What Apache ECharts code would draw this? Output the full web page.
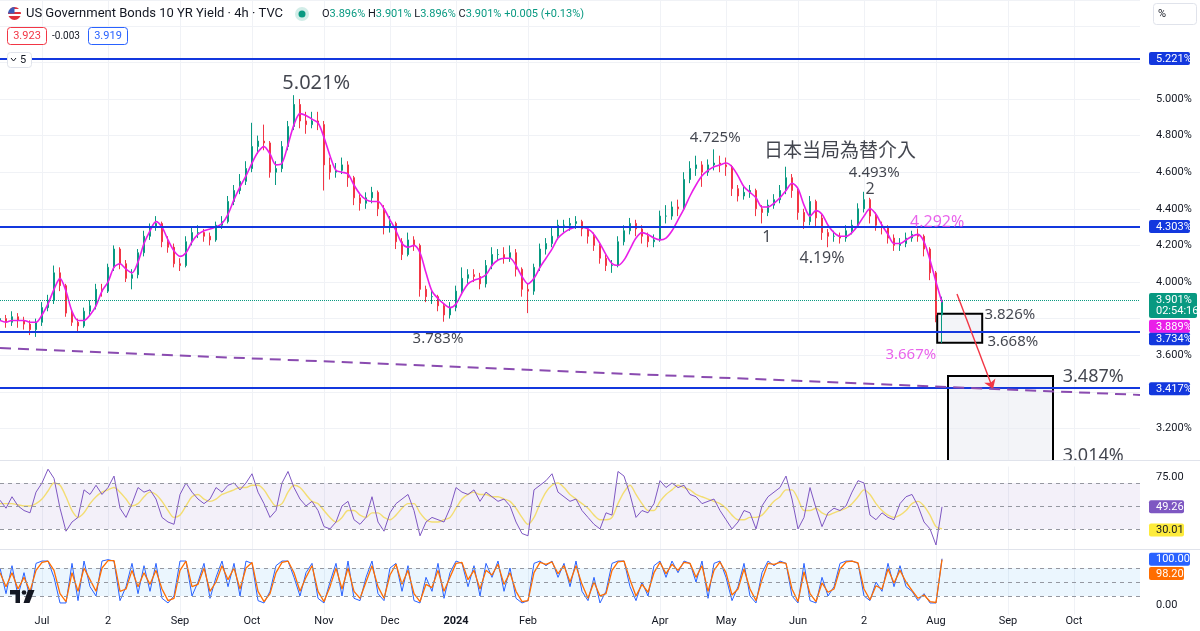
<!DOCTYPE html>
<html>
<head>
<meta charset="utf-8">
<title>US10Y 4h</title>
<script src="https://cdn.jsdelivr.net/npm/echarts@6/dist/echarts.min.js"></script>
<style>
  html, body { margin: 0; padding: 0; background: #fff; }
  #main { width: 1200px; height: 631px; }
</style>
</head>
<body>
<div id="main"></div>
<script>
// values, one candle ~ 2.6 days
var opens = [3.79,3.80,3.78,3.81,3.79,3.77,3.74,3.78,3.86,3.90,
  4.05,3.98,3.83,3.78,3.76,3.84,3.87,3.96,3.95,4.08,
  4.18,4.10,4.02,4.04,4.16,4.25,4.30,4.32,4.22,4.19,
  4.10,4.09,4.22,4.27,4.27,4.25,4.23,4.31,4.33,4.44,
  4.50,4.55,4.62,4.74,4.77,4.76,4.60,4.62,4.74,4.85,
  4.97,4.88,4.86,4.88,4.86,4.64,4.60,4.61,4.64,4.57,
  4.46,4.43,4.46,4.49,4.40,4.30,4.32,4.22,4.15,4.23,
  4.20,3.96,3.92,3.92,3.87,3.82,3.86,3.95,4.02,4.04,
  4.03,3.99,4.09,4.15,4.15,4.13,4.16,4.07,3.96,3.95,
  4.08,4.18,4.21,4.25,4.31,4.31,4.32,4.33,4.29,4.25,
  4.20,4.13,4.09,4.09,4.22,4.28,4.32,4.29,4.25,4.22,
  4.23,4.36,4.36,4.41,4.40,4.56,4.62,4.64,4.60,4.64,
  4.65,4.64,4.63,4.51,4.47,4.49,4.50,4.40,4.38,4.42,
  4.45,4.50,4.57,4.50,4.38,4.33,4.44,4.35,4.27,4.25,
  4.25,4.24,4.28,4.31,4.40,4.45,4.36,4.31,4.30,4.24,
  4.20,4.21,4.24,4.26,4.25,4.18,4.05,3.82];
var closes = [3.80,3.78,3.81,3.79,3.77,3.74,3.78,3.86,3.90,4.05,
  3.98,3.83,3.78,3.76,3.84,3.87,3.96,3.95,4.08,4.18,
  4.10,4.02,4.04,4.16,4.25,4.30,4.32,4.22,4.19,4.10,
  4.09,4.22,4.27,4.27,4.25,4.23,4.31,4.33,4.44,4.50,
  4.55,4.62,4.74,4.77,4.76,4.60,4.62,4.74,4.85,4.97,
  4.88,4.86,4.88,4.86,4.64,4.60,4.61,4.64,4.57,4.46,
  4.43,4.46,4.49,4.40,4.30,4.32,4.22,4.15,4.23,4.20,
  3.96,3.92,3.92,3.87,3.82,3.86,3.95,4.02,4.04,4.03,
  3.99,4.09,4.15,4.15,4.13,4.16,4.07,3.96,3.95,4.08,
  4.18,4.21,4.25,4.31,4.31,4.32,4.33,4.29,4.25,4.20,
  4.13,4.09,4.09,4.22,4.28,4.32,4.29,4.25,4.22,4.23,
  4.36,4.36,4.41,4.40,4.56,4.62,4.64,4.60,4.64,4.65,
  4.64,4.63,4.51,4.47,4.49,4.50,4.40,4.38,4.42,4.45,
  4.50,4.57,4.50,4.38,4.33,4.44,4.35,4.27,4.25,4.25,
  4.24,4.28,4.31,4.40,4.45,4.36,4.31,4.30,4.24,4.20,
  4.21,4.24,4.26,4.25,4.18,4.05,3.82,3.901];
var highs = [3.83,3.82,3.84,3.83,3.81,3.79,3.80,3.89,3.93,4.09,
  4.08,3.99,3.85,3.80,3.86,3.90,3.99,3.99,4.10,4.20,
  4.19,4.12,4.07,4.18,4.28,4.32,4.36,4.33,4.25,4.21,
  4.13,4.25,4.30,4.31,4.29,4.27,4.33,4.36,4.47,4.53,
  4.59,4.66,4.87,4.80,4.86,4.77,4.66,4.77,4.88,5.021,
  5.00,4.93,4.93,4.93,4.88,4.68,4.65,4.68,4.66,4.58,
  4.48,4.49,4.52,4.50,4.42,4.36,4.33,4.24,4.27,4.25,
  4.21,3.98,3.95,3.93,3.88,3.89,3.98,4.08,4.07,4.07,
  4.05,4.12,4.19,4.18,4.19,4.20,4.18,4.08,3.99,4.10,
  4.21,4.24,4.30,4.34,4.34,4.35,4.36,4.34,4.30,4.27,
  4.21,4.15,4.12,4.25,4.31,4.35,4.34,4.31,4.27,4.26,
  4.39,4.42,4.44,4.45,4.60,4.66,4.69,4.66,4.67,4.725,
  4.69,4.68,4.64,4.53,4.53,4.53,4.51,4.42,4.45,4.48,
  4.53,4.63,4.59,4.51,4.40,4.47,4.45,4.37,4.29,4.28,
  4.27,4.31,4.34,4.43,4.493,4.46,4.38,4.33,4.31,4.26,
  4.24,4.27,4.28,4.292,4.26,4.19,4.06,3.92];
var lows = [3.76,3.75,3.76,3.75,3.74,3.71,3.70,3.76,3.84,3.88,
  3.95,3.81,3.76,3.73,3.75,3.82,3.85,3.92,3.94,4.06,
  4.07,4.00,3.96,4.02,4.14,4.23,4.28,4.19,4.16,4.08,
  4.06,4.08,4.20,4.24,4.22,4.20,4.22,4.29,4.32,4.42,
  4.48,4.53,4.60,4.70,4.72,4.57,4.53,4.60,4.72,4.83,
  4.84,4.81,4.84,4.83,4.50,4.56,4.57,4.59,4.52,4.42,
  4.39,4.40,4.43,4.36,4.26,4.27,4.18,4.12,4.14,4.17,
  3.92,3.89,3.88,3.84,3.783,3.80,3.84,3.93,3.99,4.00,
  3.96,3.97,4.07,4.12,4.10,4.11,4.03,3.92,3.83,3.93,
  4.06,4.15,4.19,4.23,4.27,4.28,4.29,4.25,4.21,4.17,
  4.10,4.06,4.05,4.08,4.20,4.26,4.25,4.21,4.19,4.19,
  4.22,4.32,4.34,4.36,4.39,4.54,4.58,4.52,4.58,4.61,
  4.60,4.58,4.47,4.44,4.45,4.46,4.36,4.32,4.36,4.40,
  4.43,4.48,4.46,4.34,4.29,4.31,4.30,4.23,4.19,4.22,
  4.21,4.22,4.26,4.30,4.38,4.32,4.28,4.26,4.21,4.17,
  4.17,4.19,4.22,4.22,4.14,4.01,3.78,3.667];
// magenta moving average
var ma = [3.79,3.78,3.79,3.79,3.79,3.78,3.78,3.82,3.88,3.96,
  4.02,3.95,3.84,3.79,3.79,3.82,3.87,3.95,4.00,4.08,
  4.10,4.07,4.05,4.11,4.21,4.28,4.33,4.30,4.23,4.17,
  4.14,4.16,4.22,4.26,4.28,4.29,4.30,4.32,4.37,4.45,
  4.52,4.58,4.65,4.71,4.74,4.70,4.64,4.65,4.75,4.86,
  4.92,4.91,4.89,4.87,4.79,4.69,4.61,4.60,4.59,4.53,
  4.48,4.45,4.44,4.44,4.40,4.34,4.28,4.21,4.19,4.20,
  4.16,4.05,3.95,3.91,3.88,3.86,3.88,3.94,3.99,4.01,
  4.02,4.04,4.09,4.12,4.13,4.13,4.09,4.03,3.99,4.02,
  4.08,4.13,4.18,4.24,4.27,4.29,4.30,4.30,4.29,4.26,
  4.21,4.15,4.10,4.09,4.12,4.18,4.24,4.27,4.26,4.24,
  4.23,4.24,4.28,4.34,4.40,4.47,4.53,4.58,4.61,4.63,
  4.64,4.65,4.63,4.58,4.52,4.49,4.46,4.41,4.41,4.43,
  4.46,4.50,4.54,4.51,4.42,4.36,4.39,4.37,4.31,4.27,
  4.25,4.25,4.27,4.31,4.36,4.40,4.37,4.31,4.26,4.21,
  4.21,4.23,4.25,4.26,4.22,4.12,4.00,3.889];
var rsi = [55,48,58,50,46,44,62,70,82,74,
  48,28,36,40,64,60,68,60,66,76,
  48,40,52,66,62,64,56,40,36,34,
  60,70,62,56,52,56,66,62,68,70,
  64,70,78,62,52,40,46,70,80,66,
  56,50,54,46,32,30,36,50,54,38,
  34,40,58,36,28,44,52,56,60,46,
  24,36,40,38,36,48,66,62,60,64,
  54,62,58,54,56,50,36,26,24,64,
  68,72,78,62,58,54,56,46,40,34,
  30,44,42,80,76,60,40,46,44,52,
  72,66,70,66,68,60,58,52,54,56,
  46,38,30,36,46,44,30,50,58,62,
  66,76,56,30,40,66,48,32,44,48,
  46,50,62,72,70,42,38,44,40,38,
  52,58,60,50,36,30,16,49.26];
var rsiMa = [52,52,52,51,50,50,52,56,63,70,
  68,58,46,40,44,52,58,62,64,66,
  62,56,50,52,58,62,60,54,46,40,
  42,50,58,60,56,54,56,60,62,64,
  66,66,68,68,64,56,50,52,62,68,
  66,60,54,52,46,40,36,40,46,46,
  42,40,44,44,40,38,42,48,52,52,
  44,38,36,36,38,40,48,56,60,62,
  60,60,58,58,56,54,48,40,34,40,
  52,62,68,70,66,60,56,52,48,42,
  38,38,40,52,62,68,60,52,46,46,
  54,60,64,68,66,64,60,58,56,54,
  52,48,42,38,38,40,40,42,48,54,
  58,64,64,56,46,46,48,44,42,44,
  46,48,52,58,64,60,52,46,42,40,
  42,46,52,54,50,42,32,30.01];
var stochK = [80,25,85,20,70,15,90,95,95,60,
  5,5,90,10,95,40,20,95,98,95,
  10,40,90,25,85,30,90,15,5,20,
  95,95,20,50,90,15,60,95,40,90,
  20,95,90,10,5,30,85,95,95,60,
  20,70,90,15,5,50,90,20,95,15,
  10,60,95,25,10,80,90,30,85,10,
  5,60,30,90,15,70,95,90,40,85,
  20,90,60,95,30,80,15,5,10,90,
  95,85,95,60,90,40,95,30,10,60,
  5,30,90,95,95,40,10,50,20,85,
  95,60,95,70,95,90,50,95,15,90,
  95,60,10,40,90,20,5,70,95,85,
  95,90,20,5,90,10,5,60,20,40,
  90,95,95,90,20,10,50,30,90,40,
  85,40,30,10,25,5,5,100];
var stochD = [70,40,70,35,60,30,75,92,95,75,
  25,8,70,30,80,55,30,80,96,96,
  30,35,75,40,70,45,75,35,10,15,
  75,95,40,45,80,30,50,85,55,80,
  35,80,92,30,8,25,70,92,95,70,
  30,60,85,30,8,40,80,35,80,30,
  15,50,85,40,15,65,88,45,75,25,
  8,45,38,75,30,60,90,92,55,75,
  35,75,65,88,45,70,30,8,10,70,
  92,88,93,68,85,50,85,45,15,50,
  20,25,75,93,95,55,20,45,28,70,
  92,68,88,75,92,90,60,85,30,75,
  93,70,22,35,78,35,10,55,90,88,
  92,90,35,8,72,25,8,48,28,35,
  78,93,95,91,35,12,42,35,78,48,
  75,50,32,15,22,8,6,98.2];

// x axis: one slot per candle, slots continue into the empty future
var slotCount = 191;
var tickIdx = [7, 18, 30, 42, 54, 65, 76, 88, 110, 121, 133, 144, 156, 168, 179];
var tickText = ['Jul', '2', 'Sep', 'Oct', 'Nov', 'Dec', '2024', 'Feb', 'Apr', 'May', 'Jun', '2', 'Aug', 'Sep', 'Oct'];

// drawn levels and tools
var levels = [5.221, 4.303, 3.734, 3.417];
var lastPrice = 3.901;
var trendX = [0, 190];
var trendY = [3.639, 3.383];
var arrowX = [159.5, 165.5];
var arrowY = [3.934, 3.415];
var boxSmallX = [156.2, 163.7];
var boxSmallY = [3.826, 3.668];
var boxBigX = [158, 175.5];
var boxBigY = [3.487, 3.0];

var annText = ['5.021%', '4.725%', '日本当局為替介入', '4.493%', '2', '1', '4.19%', '4.292%', '3.783%', '3.826%', '3.668%', '3.667%', '3.487%', '3.014%'];
var annX = [52.7, 119.2, 140, 145.7, 145, 127.8, 137, 156.2, 73, 168.3, 168.8, 151.8, 182.2, 182.2];
var annY = [5.087, 4.787, 4.710, 4.596, 4.508, 4.246, 4.131, 4.328, 3.689, 3.820, 3.672, 3.601, 3.481, 3.05];
var annSize = [20, 15, 19, 15, 16, 16, 16, 16, 15, 15, 15, 15, 18, 18];
var annColor = ['#131722', '#131722', '#131722', '#131722', '#131722', '#131722', '#131722', '#e33ce6', '#131722', '#131722', '#131722', '#e33ce6', '#131722', '#131722'];

var BLUE = '#1338de';
var MAGENTA = '#e91ee8';
var FONT = 'Roboto, "Noto Sans", "Noto Sans CJK JP", sans-serif';

var cats = [];
for (var i = 0; i < slotCount; i++) cats.push('s' + i);

var candles = opens.map(function (o, i) { return [o, closes[i], lows[i], highs[i]]; });

var showTick = function (idx) { return tickIdx.indexOf(idx) >= 0; };

var catAxis = function (grid, labels) {
  return {
    type: 'category', gridIndex: grid, data: cats, boundaryGap: false,
    axisLine: { show: false }, axisTick: { show: false },
    axisLabel: labels ? {
      interval: showTick, color: '#131722', fontSize: 11, margin: 1, fontFamily: FONT,
      formatter: function (v, idx) {
        var k = tickIdx.indexOf(idx);
        if (k < 0) return '';
        return tickText[k] === '2024' ? '{b|2024}' : tickText[k];
      },
      rich: { b: { fontWeight: 'bold', fontSize: 11, color: '#131722', fontFamily: FONT } }
    } : { show: false },
    splitLine: { show: true, interval: showTick, lineStyle: { color: '#f0f2f6', width: 1 } }
  };
};

var option = {
  animation: false,
  backgroundColor: '#ffffff',
  textStyle: { fontFamily: FONT },
  grid: [
    { left: 0, right: 60, top: 0, height: 465 },
    { left: 0, right: 60, top: 460, height: 89 },
    { left: 0, right: 60, top: 549.4, height: 65.2 }
  ],
  xAxis: [
    catAxis(0, false),
    { type: 'value', gridIndex: 0, min: 0, max: 190, show: false },
    catAxis(1, false),
    catAxis(2, true)
  ],
  yAxis: [
    {
      type: 'value', gridIndex: 0, position: 'right', min: 3.0, max: 5.541, interval: 0.2,
      axisLine: { show: false }, axisTick: { show: false },
      splitLine: { lineStyle: { color: '#f0f2f6' } },
      axisLabel: {
        color: '#131722', fontSize: 11, margin: 16, showMaxLabel: false,
        formatter: function (v) {
          if (Math.abs(v * 5 - Math.round(v * 5)) > 1e-6) return '';
          var s = v.toFixed(1);
          if (['3.0', '3.4', '3.8', '5.2', '5.4'].indexOf(s) >= 0) return '';
          return v.toFixed(3) + '%';
        }
      }
    },
    {
      type: 'value', gridIndex: 1, position: 'right', min: 12.5, max: 90, interval: 12.5,
      axisLine: { show: false }, axisTick: { show: false }, splitLine: { show: false },
      axisLabel: { color: '#131722', fontSize: 11, margin: 16, formatter: function (v) { return v === 75 ? '75.00' : ''; } }
    },
    {
      type: 'value', gridIndex: 2, position: 'right', min: -20, max: 120, interval: 20,
      axisLine: { show: false }, axisTick: { show: false }, splitLine: { show: false },
      axisLabel: { color: '#131722', fontSize: 11, margin: 16, formatter: function (v) { return v === 0 ? '0.00' : ''; } }
    }
  ],
  series: [
    {
      type: 'candlestick', xAxisIndex: 0, yAxisIndex: 0, data: candles, barWidth: 2, z: 3, silent: true,
      itemStyle: { color: '#089981', color0: '#f23645', borderColor: '#089981', borderColor0: '#f23645', borderWidth: 1 },
      markLine: {
        silent: true, symbol: ['none', 'none'], label: { show: false },
        data: levels.map(function (v) {
          return { yAxis: v, lineStyle: { color: BLUE, width: 2, type: 'solid' } };
        }).concat([{ yAxis: lastPrice, lineStyle: { color: '#089981', width: 1, type: 'dotted' } }])
      }
    },
    {
      type: 'line', xAxisIndex: 0, yAxisIndex: 0, data: ma, symbol: 'none', smooth: 0.3, z: 4, silent: true,
      lineStyle: { color: MAGENTA, width: 1.6 }
    },
    {
      type: 'line', xAxisIndex: 1, yAxisIndex: 0, symbol: 'none', z: 5, silent: true,
      data: [[trendX[0], trendY[0]], [trendX[1], trendY[1]]],
      lineStyle: { color: '#8a4bb0', width: 2, type: [11, 7] },
      markLine: {
        silent: true, symbol: ['none', 'arrow'], symbolSize: 9, label: { show: false },
        lineStyle: { color: '#f23645', width: 1.4, type: 'solid' },
        data: [[{ coord: [arrowX[0], arrowY[0]] }, { coord: [arrowX[1], arrowY[1]] }]]
      },
      markArea: {
        silent: true,
        itemStyle: { color: 'rgba(234,235,243,0.55)', borderColor: '#000', borderWidth: 2 },
        data: [
          [{ coord: [boxSmallX[0], boxSmallY[0]] }, { coord: [boxSmallX[1], boxSmallY[1]] }],
          [{ coord: [boxBigX[0], boxBigY[0]] }, { coord: [boxBigX[1], boxBigY[1]] }]
        ]
      }
    },
    {
      type: 'scatter', xAxisIndex: 1, yAxisIndex: 0, symbolSize: 1, z: 10, silent: true,
      itemStyle: { color: 'rgba(0,0,0,0)' },
      label: { show: true, position: 'inside' },
      data: annText.map(function (t, i) {
        return {
          value: [annX[i], annY[i]],
          label: { formatter: t, fontSize: annSize[i], color: annColor[i], fontFamily: '"Noto Sans", "Noto Sans CJK JP", sans-serif' }
        };
      })
    },
    {
      type: 'line', xAxisIndex: 2, yAxisIndex: 1, data: rsi, symbol: 'none', z: 4, silent: true,
      lineStyle: { color: '#7e57c2', width: 1 },
      markArea: { silent: true, itemStyle: { color: 'rgba(126,87,194,0.09)' }, data: [[{ yAxis: 30 }, { yAxis: 70 }]] },
      markLine: {
        silent: true, symbol: ['none', 'none'], label: { show: false },
        lineStyle: { color: '#9598a1', type: [4, 4], width: 1 },
        data: [{ yAxis: 70 }, { yAxis: 50 }, { yAxis: 30 }]
      }
    },
    {
      type: 'line', xAxisIndex: 2, yAxisIndex: 1, data: rsiMa, symbol: 'none', smooth: 0.3, z: 3, silent: true,
      lineStyle: { color: '#f3dd72', width: 1.4 }
    },
    {
      type: 'line', xAxisIndex: 3, yAxisIndex: 2, data: stochK, symbol: 'none', z: 3, silent: true,
      lineStyle: { color: '#2962ff', width: 1 },
      markArea: { silent: true, itemStyle: { color: 'rgba(33,150,243,0.09)' }, data: [[{ yAxis: 20 }, { yAxis: 80 }]] },
      markLine: {
        silent: true, symbol: ['none', 'none'], label: { show: false },
        lineStyle: { color: '#9598a1', type: [4, 4], width: 1 },
        data: [{ yAxis: 80 }, { yAxis: 50 }, { yAxis: 20 }]
      }
    },
    {
      type: 'line', xAxisIndex: 3, yAxisIndex: 2, data: stochD, symbol: 'none', z: 4, silent: true,
      lineStyle: { color: '#ff6d00', width: 1.3 }
    }
  ]
};

var chart = echarts.init(document.getElementById('main'));
chart.setOption(option);

// header, panel separators and price-scale tags
var g = [];
g.push({ type: 'rect', shape: { x: 0, y: 460.5, width: 1200, height: 6 }, style: { fill: '#fff' }, z: 100 });
g.push({ type: 'line', shape: { x1: 0, y1: 460.5, x2: 1200, y2: 460.5 }, style: { stroke: '#e0e3eb', lineWidth: 1 }, z: 101 });
g.push({ type: 'line', shape: { x1: 0, y1: 549.5, x2: 1200, y2: 549.5 }, style: { stroke: '#e0e3eb', lineWidth: 1 }, z: 101 });

// flag
g.push({ type: 'circle', shape: { cx: 14.5, cy: 13.5, r: 6.5 }, z: 110, style: {
  fill: new echarts.graphic.LinearGradient(0, 0, 0, 1, [
    { offset: 0, color: '#e0303b' }, { offset: 0.18, color: '#e0303b' }, { offset: 0.18, color: '#fff' },
    { offset: 0.36, color: '#fff' }, { offset: 0.36, color: '#e0303b' }, { offset: 0.54, color: '#e0303b' },
    { offset: 0.54, color: '#fff' }, { offset: 0.72, color: '#fff' }, { offset: 0.72, color: '#e0303b' },
    { offset: 1, color: '#e0303b' }]) } });
g.push({ type: 'sector', shape: { cx: 14.5, cy: 13.5, r: 6.5, r0: 0, startAngle: Math.PI, endAngle: Math.PI * 1.5 }, style: { fill: '#3c5bb8' }, z: 111 });
g.push({ type: 'text', x: 26, y: 14, z: 110, style: { text: 'US Government Bonds 10 YR Yield · 4h · TVC', fill: '#131722', font: '13px ' + FONT, verticalAlign: 'middle' } });
g.push({ type: 'circle', shape: { cx: 302, cy: 14, r: 7 }, style: { fill: 'rgba(8,153,129,0.18)' }, z: 110 });
g.push({ type: 'circle', shape: { cx: 302, cy: 14, r: 3.5 }, style: { fill: '#089981' }, z: 111 });
g.push({ type: 'text', x: 322, y: 14, z: 110, style: {
  text: '{l|O}{n|3.896%} {l|H}{n|3.901%} {l|L}{n|3.896%} {l|C}{n|3.901%} {n|+0.005 (+0.13%)}',
  verticalAlign: 'middle', font: '11px ' + FONT,
  rich: { l: { fill: '#131722', font: '11px ' + FONT }, n: { fill: '#089981', font: '11px ' + FONT } } } });
g.push({ type: 'rect', shape: { x: 7.5, y: 27.5, width: 39, height: 17, r: 3 }, style: { fill: '#fff', stroke: '#f23645', lineWidth: 1 }, z: 110 });
g.push({ type: 'text', x: 27, y: 36, z: 111, style: { text: '3.923', fill: '#f23645', font: '11px ' + FONT, align: 'center', verticalAlign: 'middle' } });
g.push({ type: 'text', x: 52, y: 36, z: 111, style: { text: '-0.003', fill: '#131722', font: '10px ' + FONT, verticalAlign: 'middle' } });
g.push({ type: 'rect', shape: { x: 88.5, y: 27.5, width: 39, height: 17, r: 3 }, style: { fill: '#fff', stroke: '#2962ff', lineWidth: 1 }, z: 110 });
g.push({ type: 'text', x: 108, y: 36, z: 111, style: { text: '3.919', fill: '#2962ff', font: '11px ' + FONT, align: 'center', verticalAlign: 'middle' } });
g.push({ type: 'rect', shape: { x: 7.5, y: 52.5, width: 24, height: 15, r: 3 }, style: { fill: '#fff', stroke: '#e0e3eb', lineWidth: 1 }, z: 110 });
g.push({ type: 'polyline', shape: { points: [[11, 58], [13.5, 61], [16, 58]] }, style: { stroke: '#131722', lineWidth: 1, fill: null }, z: 111 });
g.push({ type: 'text', x: 20, y: 60, z: 111, style: { text: '5', fill: '#131722', font: '11px ' + FONT, verticalAlign: 'middle' } });
g.push({ type: 'rect', shape: { x: 1153.5, y: 3.5, width: 43, height: 21, r: 3 }, style: { fill: '#fff', stroke: '#e0e3eb', lineWidth: 1 }, z: 110 });
g.push({ type: 'text', x: 1158, y: 14, z: 111, style: { text: '%', fill: '#131722', font: '11px ' + FONT, verticalAlign: 'middle' } });

// TradingView logo
g.push({ type: 'rect', shape: { x: 10, y: 590, width: 10, height: 4.5 }, style: { fill: '#131722' }, z: 110 });
g.push({ type: 'rect', shape: { x: 15.5, y: 590, width: 4.5, height: 13 }, style: { fill: '#131722' }, z: 110 });
g.push({ type: 'circle', shape: { cx: 24, cy: 592.5, r: 2.3 }, style: { fill: '#131722' }, z: 110 });
g.push({ type: 'polygon', shape: { points: [[28, 590], [34.5, 590], [29.5, 603], [23.5, 603]] }, style: { fill: '#131722' }, z: 110 });

function tag(axis, v, dy, text, bg, fg, w) {
  var y = chart.convertToPixel({ yAxisIndex: axis }, v) + dy;
  g.push({ type: 'rect', shape: { x: 1149, y: y - 6.5, width: w, height: 13, r: 2 }, style: { fill: bg }, z: 120 });
  g.push({ type: 'text', x: 1156, y: y + 0.5, z: 121, style: { text: text, fill: fg, font: '11px ' + FONT, verticalAlign: 'middle' } });
}
levels.forEach(function (v) { tag(0, v, v === 3.734 ? 8 : 0, v.toFixed(3) + '%', BLUE, '#fff', 41); });
tag(0, 3.889, 24, '3.889%', MAGENTA, '#fff', 41);
(function () {
  var y = chart.convertToPixel({ yAxisIndex: 0 }, lastPrice);
  g.push({ type: 'rect', shape: { x: 1149, y: y - 7, width: 48, height: 25, r: 2 }, style: { fill: '#089981' }, z: 122 });
  g.push({ type: 'text', x: 1156, y: y, z: 123, style: { text: '3.901%', fill: '#fff', font: '11px ' + FONT, verticalAlign: 'middle' } });
  g.push({ type: 'text', x: 1156, y: y + 11.5, z: 123, style: { text: '02:54:16', fill: '#fff', font: '11px ' + FONT, verticalAlign: 'middle' } });
})();
tag(1, rsi[rsi.length - 1], 0, '49.26', '#7e57c2', '#fff', 35);
tag(1, rsiMa[rsiMa.length - 1], 1, '30.01', '#fdeb3b', '#131722', 35);
tag(2, stochK[stochK.length - 1], 0.5, '100.00', '#2962ff', '#fff', 41);
tag(2, stochD[stochD.length - 1], 14, '98.20', '#ff6d00', '#fff', 35);

chart.setOption({ graphic: g });
</script>
</body>
</html>
